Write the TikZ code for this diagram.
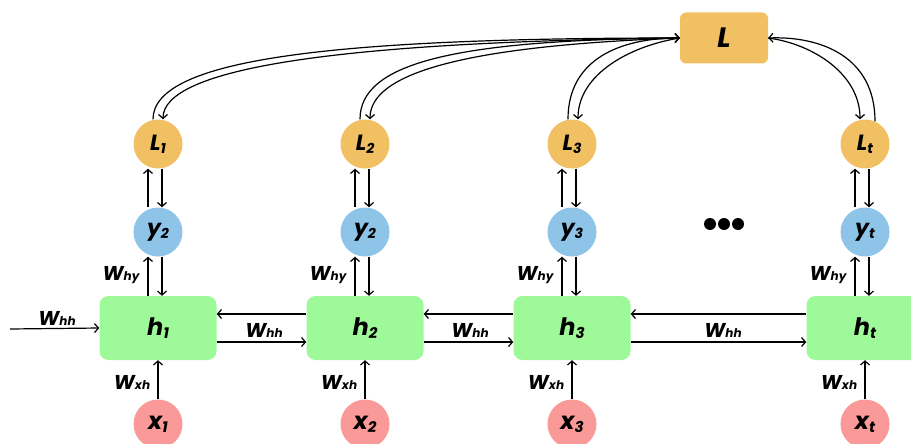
\documentclass[tikz,border=0pt]{standalone}
\usepackage{fontspec}
\setmainfont{Poppins}
\usetikzlibrary{arrows.meta}
\definecolor{lossc}{HTML}{F0C062}
\definecolor{yc}{HTML}{8EC4E8}
\definecolor{hc}{HTML}{9EFA98}
\definecolor{xc}{HTML}{FA9A98}
\newcommand{\cl}[2]{{\fontsize{22}{22}\selectfont\bfseries\itshape #1}\raisebox{-3pt}{\fontsize{14}{14}\selectfont\bfseries\itshape #2}}
\newcommand{\hl}[2]{{\fontsize{24}{24}\selectfont\bfseries\itshape #1}\raisebox{-3pt}{\fontsize{15}{15}\selectfont\bfseries\itshape #2}}
\newcommand{\wl}[1]{{\fontsize{20}{20}\selectfont\bfseries\itshape W}{\fontsize{12}{12}\selectfont\bfseries\itshape #1}}
\begin{document}
\begin{tikzpicture}[x=1pt,y=-1pt,
  arr/.style={-{Straight Barb[length=4pt,width=9pt]},line width=1.2pt},
  circ/.style={circle,minimum size=49pt,inner sep=0pt},
  lnode/.style={circ,fill=lossc},
  ynode/.style={circ,fill=yc},
  xnode/.style={circ,fill=xc},
  hnode/.style={rectangle,rounded corners=9pt,minimum width=117pt,minimum height=64pt,fill=hc,inner sep=0pt},
  wlabel/.style={inner sep=0pt},
  dot/.style={circle,fill=black,minimum size=12pt,inner sep=0pt}]
\useasboundingbox (0,0) rectangle (911,444);
\clip (0,0) rectangle (911,444);
% loss box
\node[rectangle,rounded corners=6pt,fill=lossc,minimum width=88pt,minimum height=51pt] (L) at (724,38) {\fontsize{28}{28}\selectfont\bfseries\itshape L};
% columns
\foreach \i/\cx/\s in {1/158/1,2/365/2,3/572/3,t/865/t}{
  \node[lnode] (L\i) at (\cx,144) {\cl{L}{\s}};
  \node[hnode] (h\i) at (\cx,328) {\hl{h}{\s}};
  \node[xnode] (x\i) at (\cx,424) {\hl{x}{\s}};
}
\node[ynode] (y1) at (158,232) {\cl{y}{2}};
\node[ynode] (y2) at (365,232) {\cl{y}{2}};
\node[ynode] (y3) at (572,232) {\cl{y}{3}};
\node[ynode] (yt) at (865,232) {\cl{y}{t}};
% vertical arrows
\foreach \i in {1,2,3,t}{
  \draw[arr] ([xshift=-10pt]h\i.north) -- ([xshift=-10pt]y\i.south);
  \draw[arr] ([xshift=4pt]y\i.south) -- ([xshift=4pt]h\i.north);
  \draw[arr] ([xshift=-10pt]y\i.north) -- ([xshift=-10pt]L\i.south);
  \draw[arr] ([xshift=4pt]L\i.south) -- ([xshift=4pt]y\i.north);
  \draw[arr] (x\i.north) -- (h\i.south);
}
% horizontal arrows
\coordinate (in) at (10,329);
\draw[arr] (in) -- (h1.west);
\foreach \a/\b in {1/2,2/3,3/t}{
  \draw[arr] ([yshift=14pt]h\b.west) -- ([yshift=14pt]h\a.east);
  \draw[arr] ([yshift=-14pt]h\a.east) -- ([yshift=-14pt]h\b.west);
}
% labels
\node[wlabel] (w0) at (57,318) {\wl{hh}};
\node[wlabel] (w12) at (264,330) {\wl{hh}};
\node[wlabel] (w23) at (470,330) {\wl{hh}};
\node[wlabel] (w3t) at (723,330) {\wl{hh}};
\foreach \i/\cx in {1/158,2/365,3/572,t/865}{
  \node[wlabel] (why\i) at (\cx-37,275) {\wl{hy}};
  \node[wlabel] (wxh\i) at (\cx-26,382) {\wl{xh}};
}
% ellipsis
\node[dot] (d1) at (710,224) {};
\node[dot] (d2) at (724,224) {};
\node[dot] (d3) at (738,224) {};
% loss curves
\draw[arr] ([xshift=-5pt]L1.north) .. controls +(0,-60) and +(-350,0) .. (L.west);
\draw[arr] (L.west) .. controls +(-350,4) and +(0,-50) .. ([xshift=5pt]L1.north);
\draw[arr] ([xshift=-5pt]L2.north) .. controls +(0,-55) and +(-230,2) .. (L.west);
\draw[arr] (L.west) .. controls +(-220,8) and +(0,-45) .. ([xshift=5pt]L2.north);
\draw[arr] ([xshift=-4pt]L3.north) .. controls +(0,-60) and +(-60,0) .. (L.west);
\draw[arr] (L.west) .. controls +(-50,8) and +(0,-45) .. ([xshift=6pt]L3.north);
\draw[arr] ([xshift=10pt,yshift=-2pt]Lt.north) .. controls +(0,-65) and +(52,-2) .. (L.east);
\draw[arr] (L.east) .. controls +(45,6) and +(0,-45) .. ([xshift=-5pt]Lt.north);
\end{tikzpicture}
\end{document}
